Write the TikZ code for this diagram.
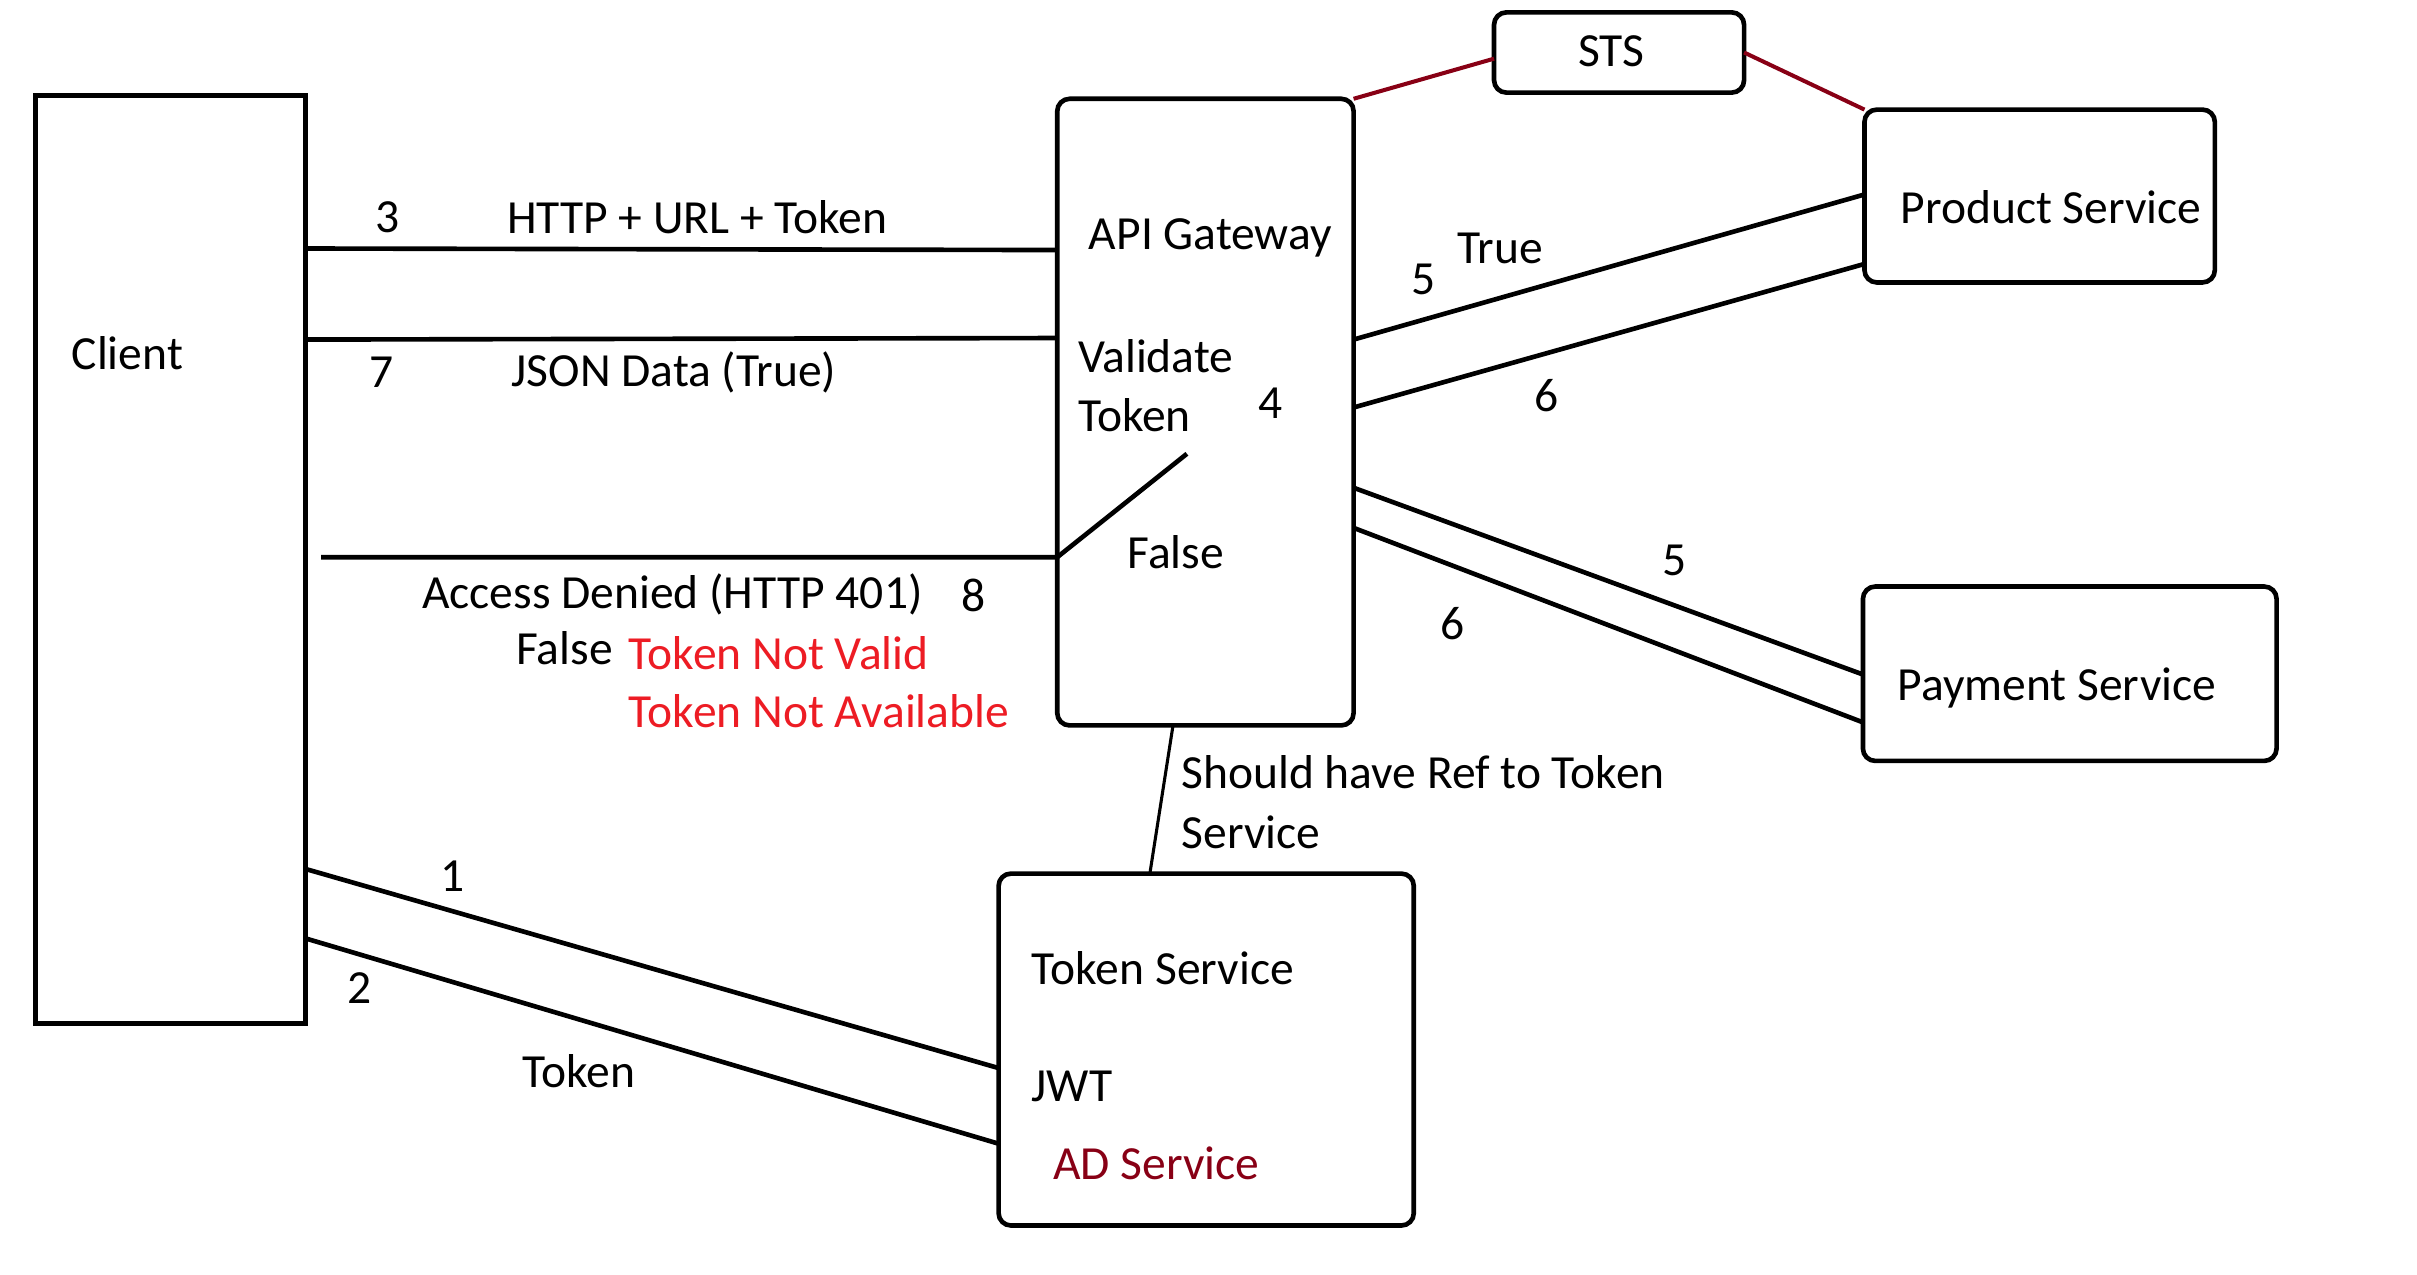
\documentclass[tikz,border=0pt]{standalone}
\usepackage{fontspec}
\setmainfont{Carlito}
\usepackage{tikz}
\usetikzlibrary{arrows}
\definecolor{paintred}{RGB}{237,28,36}
\definecolor{darkred}{RGB}{136,0,21}

\begin{document}
\begin{tikzpicture}[x=0.5pt,y=-0.5pt,
  -,line width=1.5pt,
  box/.style={draw=black,rectangle,rounded corners=4pt,inner sep=0pt,outer sep=0pt},
  txt/.style={anchor=west,inner sep=0pt,font=\fontsize{15.4}{18}\selectfont},
  num/.style={txt,anchor=center},
  stsline/.style={draw=darkred,line width=1.3pt},
  refline/.style={draw,line width=1pt}]
      \tikzstyle{every edge}=[draw,line width=1.5pt]

  \useasboundingbox (0,0) rectangle (1566,826);

     \node [box,rounded corners=0pt,minimum width=87.5pt,minimum height=300.5pt] (client) at (110.5,362.5) {};
     \node [box,minimum width=96pt,minimum height=203pt] (gw) at (781,267) {};
     \node [box,minimum width=81pt,minimum height=26pt] (sts) at (1049,34) {};
     \node [box,minimum width=113.5pt,minimum height=56pt] (prod) at (1321.5,127) {};
     \node [box,minimum width=134pt,minimum height=56.5pt] (pay) at (1341,436.5) {};
     \node [box,minimum width=134.5pt,minimum height=114pt] (tok) at (781.5,680) {};

     \coordinate (deny) at (208,361);
     \coordinate (check) at (769,294);

     \node [txt] (tclient) at (45,229) {Client};
     \node [txt] (tgw) at (704,154) {API Gateway};
     \node [txt] (tval) at (697,231) {Validate};
     \node [txt] (tvaltok) at (697,269) {Token};
     \node [num] (n4) at (823,261) {4};
     \node [txt] (tfalse) at (729,358) {False};
     \node [num] (tsts) at (1044,33) {STS};
     \node [txt] (tprod) at (1230,134) {Product Service};
     \node [txt] (tpay) at (1228,446) {Payment Service};
     \node [txt] (ttok) at (667,627) {Token Service};
     \node [txt] (tjwt) at (667,704) {JWT};
     \node [txt,text=darkred] (tad) at (681,754) {AD Service};

     \node [num] (n3) at (251,141) {3};
     \node [txt] (thttp) at (327,141) {HTTP + URL + Token};
     \node [num] (n7) at (247,241) {7};
     \node [txt] (tjson) at (330,241) {JSON Data (True)};
     \node [txt] (tdenied) at (272,385) {Access Denied (HTTP 401)};
     \node [num] (n8) at (631,386) {8};
     \node [txt] (tfalse2) at (333,420) {False};
     \node [txt,text=paintred] (tnotvalid) at (406,423) {Token Not Valid};
     \node [txt,text=paintred] (tnotavail) at (406,461) {Token Not Available};
     \node [num] (n5a) at (922,181) {5};
     \node [txt] (ttrue) at (943,161) {True};
     \node [num] (n6a) at (1002,256) {6};
     \node [num] (n5b) at (1085,363) {5};
     \node [num] (n6b) at (941,404) {6};
     \node [txt] (tref) at (764,500) {Should have Ref to Token};
     \node [txt] (tref2) at (764,539) {Service};
     \node [num] (n1) at (293,568) {1};
     \node [num] (n2) at (233,640) {2};
     \node [num] (ttoken) at (375,694) {Token};

       \path
	(client.east |- 0,161) edge (gw.west |- 0,162)
	(client.east |- 0,220) edge (gw.west |- 0,219)
	(gw.east |- 0,220) edge (prod.west |- 0,126)
	(gw.east |- 0,264) edge (prod.west |- 0,171)
	(gw.east |- 0,316) edge (pay.west |- 0,437)
	(gw.east |- 0,342) edge (pay.west |- 0,468)
	(client.east |- 0,563) edge (tok.west |- 0,692)
	(client.east |- 0,608) edge (tok.west |- 0,741)
	(gw.south -| 760,0) edge[refline] (tok.north -| 745,0)
	(gw.north east) edge[stsline] (sts.west |- 0,38)
	(sts.east |- 0,34) edge[stsline] (prod.north west);

       \draw (deny) -- (gw.west |- deny) -- (check);

\end{tikzpicture}
\end{document}
